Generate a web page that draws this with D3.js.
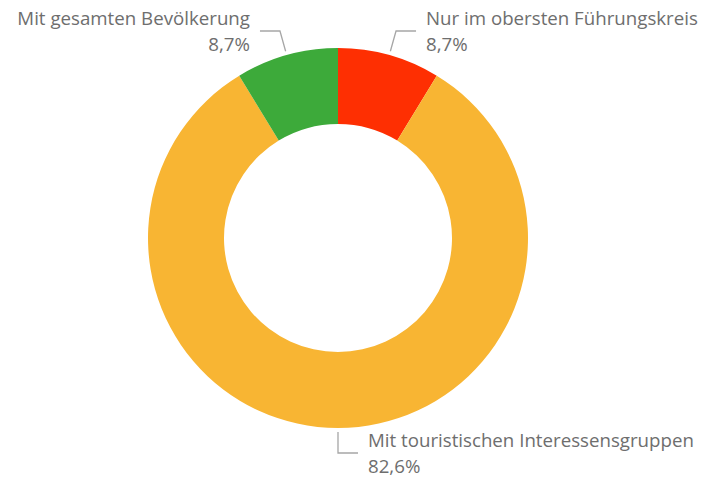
<!DOCTYPE html>
<html>
<head>
<meta charset="utf-8">
<script src="https://cdn.jsdelivr.net/npm/d3@7"></script>
<style>
  body { margin: 0; background: #fff; }
  svg text { font-family: "Open Sans", "Noto Sans", sans-serif; }
</style>
</head>
<body>
<svg id="chart" width="704" height="481"></svg>
<script>
// data
var categories = ["Nur im obersten Führungskreis", "Mit touristischen Interessensgruppen", "Mit gesamten Bevölkerung"];
var values = [8.7, 82.6, 8.7];
var colors = ["#fe2f02", "#f8b533", "#3daa3a"];

var width = 704, height = 481;
var cx = 338, cy = 238;
var outerR = 190, innerR = 114;

var svg = d3.select("#chart");
var g = svg.append("g").attr("transform", "translate(" + cx + "," + cy + ")");

var pie = d3.pie().sort(null).value(function (d) { return d; });
var arcs = pie(values);

var arc = d3.arc().innerRadius(innerR).outerRadius(outerR);

g.selectAll("path.slice")
  .data(arcs)
  .enter()
  .append("path")
  .attr("class", "slice")
  .attr("d", arc)
  .attr("fill", function (d, i) { return colors[i]; });

// leader lines + labels
function polar(r, a) { return [r * Math.sin(a), -r * Math.cos(a)]; }
var fmt = function (v) { return v.toFixed(1).replace(".", ",") + "%"; };

arcs.forEach(function (d, i) {
  var a = (d.startAngle + d.endAngle) / 2;
  var p1 = polar(outerR + 4, a);
  var p2 = polar(outerR + 25, a);
  var dir = Math.sin(a) >= -1e-6 ? 1 : -1;
  var p3 = [p2[0] + dir * 20, p2[1]];

  g.append("polyline")
    .attr("points", [p1, p2, p3].map(function (p) { return p.join(","); }).join(" "))
    .attr("fill", "none")
    .attr("stroke", "#a6a6a6")
    .attr("stroke-width", 1.3);

  var tx = p3[0] + dir * 10;
  var t = g.append("text")
    .attr("x", tx)
    .attr("y", p2[1] - 6)
    .attr("text-anchor", dir > 0 ? "start" : "end")
    .attr("font-size", 18.7)
    .attr("fill", "#6e6e6e");
  t.append("tspan").attr("x", tx).attr("dy", 0).text(categories[i]);
  t.append("tspan").attr("x", tx).attr("dy", 26).text(fmt(d.data));
});
</script>
</body>
</html>
